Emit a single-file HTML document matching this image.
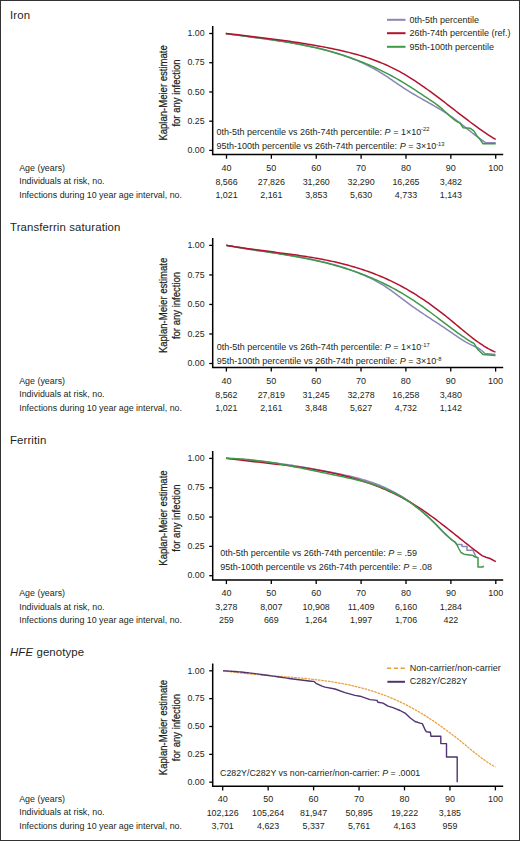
<!DOCTYPE html>
<html><head><meta charset="utf-8"><style>
html,body{margin:0;padding:0;background:#fff;}
body{width:520px;height:841px;overflow:hidden;}
svg{display:block;}
text{font-family:"Liberation Sans", sans-serif;fill:#231f20;}
.title{font-size:11.4px;letter-spacing:0.12px;}
.yt{font-size:8.8px;text-anchor:end;}
.xt{font-size:9px;text-anchor:middle;}
.tl{font-size:8.9px;}
.tn{font-size:8.9px;text-anchor:middle;}
.pt{font-size:9px;}
.pt4{font-size:8.8px;}
.sup{font-size:5.8px;}
.lg{font-size:9px;}
.ylab{font-size:11.5px;text-anchor:middle;stroke:#231f20;stroke-width:0.25px;}
.axis{fill:none;stroke:#000;stroke-width:1.5;}
.tick{fill:none;stroke:#000;stroke-width:1.3;}
</style></head><body>
<svg width="520" height="841" viewBox="0 0 520 841">
<rect x="0.5" y="0.5" width="519" height="840" fill="#fff" stroke="#333" stroke-width="1"/>
<text x="10" y="19.1" class="title">Iron</text>
<path d="M212.7 26.0 V154.5 H503.2" class="axis"/>
<path d="M209.2 33.50 H212.7" class="tick"/>
<text x="204.6" y="36.20" class="yt">1.00</text>
<path d="M209.2 62.73 H212.7" class="tick"/>
<text x="204.6" y="65.42" class="yt">0.75</text>
<path d="M209.2 91.95 H212.7" class="tick"/>
<text x="204.6" y="94.65" class="yt">0.50</text>
<path d="M209.2 121.18 H212.7" class="tick"/>
<text x="204.6" y="123.88" class="yt">0.25</text>
<path d="M209.2 150.40 H212.7" class="tick"/>
<text x="204.6" y="153.10" class="yt">0.00</text>
<text transform="translate(166.6 92.95) rotate(-90) scale(0.83 1)" class="ylab">Kaplan-Meier estimate</text>
<text transform="translate(180.3 92.95) rotate(-90) scale(0.83 1)" class="ylab">for any infection</text>
<path d="M226.50 154.5 V158.7" class="tick"/>
<text x="226.50" y="170.6" class="xt">40</text>
<path d="M271.37 154.5 V158.7" class="tick"/>
<text x="271.37" y="170.6" class="xt">50</text>
<path d="M316.24 154.5 V158.7" class="tick"/>
<text x="316.24" y="170.6" class="xt">60</text>
<path d="M361.11 154.5 V158.7" class="tick"/>
<text x="361.11" y="170.6" class="xt">70</text>
<path d="M405.98 154.5 V158.7" class="tick"/>
<text x="405.98" y="170.6" class="xt">80</text>
<path d="M450.85 154.5 V158.7" class="tick"/>
<text x="450.85" y="170.6" class="xt">90</text>
<path d="M495.72 154.5 V158.7" class="tick"/>
<text x="495.72" y="170.6" class="xt">100</text>
<text x="19.2" y="170.9" class="tl">Age (years)</text>
<text x="19.2" y="184.4" class="tl">Individuals at risk, no.</text>
<text x="19.2" y="197.8" class="tl">Infections during 10 year age interval, no.</text>
<text x="226.50" y="184.8" class="tn">8,566</text>
<text x="271.37" y="184.8" class="tn">27,826</text>
<text x="316.24" y="184.8" class="tn">31,260</text>
<text x="361.11" y="184.8" class="tn">32,290</text>
<text x="405.98" y="184.8" class="tn">16,265</text>
<text x="450.85" y="184.8" class="tn">3,482</text>
<text x="226.50" y="198.2" class="tn">1,021</text>
<text x="271.37" y="198.2" class="tn">2,161</text>
<text x="316.24" y="198.2" class="tn">3,853</text>
<text x="361.11" y="198.2" class="tn">5,630</text>
<text x="405.98" y="198.2" class="tn">4,733</text>
<text x="450.85" y="198.2" class="tn">1,143</text>
<path d="M225.80 33.50 L227.80 33.81 L229.80 34.11 L231.80 34.40 L233.80 34.69 L235.80 34.98 L237.80 35.26 L239.80 35.54 L241.80 35.82 L243.80 36.09 L245.80 36.36 L247.80 36.63 L249.80 36.89 L251.80 37.16 L253.80 37.42 L255.80 37.69 L257.80 37.95 L259.80 38.22 L261.80 38.48 L263.80 38.75 L265.80 39.02 L267.80 39.29 L269.80 39.57 L271.80 39.84 L273.80 40.13 L275.80 40.41 L277.80 40.70 L279.80 41.00 L281.80 41.29 L283.80 41.60 L285.80 41.91 L287.80 42.23 L289.80 42.56 L291.80 42.89 L293.80 43.23 L295.80 43.58 L297.80 43.94 L299.80 44.30 L301.80 44.68 L303.80 45.07 L305.80 45.46 L307.80 45.87 L309.80 46.29 L311.80 46.72 L313.80 47.16 L315.80 47.62 L317.80 48.09 L319.80 48.57 L321.80 49.07 L323.80 49.58 L325.80 50.10 L327.80 50.64 L329.80 51.20 L331.80 51.77 L333.80 52.36 L335.80 52.96 L337.80 53.58 L339.80 54.22 L341.80 54.88 L343.80 55.56 L345.80 56.25 L347.80 56.97 L349.80 57.70 L351.80 58.46 L353.80 59.25 L355.80 60.05 L357.80 60.88 L359.80 61.74 L361.80 62.63 L363.80 63.55 L365.80 64.50 L367.80 65.48 L369.80 66.49 L371.80 67.54 L373.80 68.62 L375.80 69.74 L377.80 70.89 L379.80 72.09 L381.80 73.33 L383.80 74.60 L385.80 75.90 L387.80 77.22 L389.80 78.57 L391.80 79.93 L393.80 81.29 L395.80 82.66 L397.80 84.03 L399.80 85.38 L401.80 86.72 L403.80 88.05 L405.80 89.34 L407.80 90.61 L409.80 91.85 L411.80 93.06 L413.80 94.25 L415.80 95.42 L417.80 96.58 L419.80 97.72 L421.80 98.85 L423.80 99.98 L425.80 101.11 L427.80 102.23 L429.80 103.36 L431.80 104.50 L433.80 105.64 L435.80 106.80 L437.80 107.98 L439.80 109.17 L441.80 110.39 L443.80 111.64 L445.80 112.91 L447.80 114.22 L449.80 115.56 L451.80 116.95 L453.80 118.37 L455.80 119.84 L457.80 121.36 L459.80 122.91 L461.80 124.49 L463.80 126.09 L465.80 127.70 L467.80 129.32 L469.80 130.93 L471.80 132.54 L473.80 134.12 L475.80 135.68 L477.80 137.20 L479.80 138.68 L481.80 140.11 L483.80 141.48 L485.50 142.60 L495.70 142.70" fill="none" stroke="#8a86b8" stroke-width="1.50" stroke-linejoin="round" />
<path d="M225.80 33.50 L227.80 33.77 L229.80 34.04 L231.80 34.31 L233.80 34.58 L235.80 34.84 L237.80 35.11 L239.80 35.37 L241.80 35.64 L243.80 35.90 L245.80 36.16 L247.80 36.43 L249.80 36.69 L251.80 36.96 L253.80 37.23 L255.80 37.50 L257.80 37.77 L259.80 38.04 L261.80 38.32 L263.80 38.60 L265.80 38.88 L267.80 39.16 L269.80 39.45 L271.80 39.75 L273.80 40.05 L275.80 40.35 L277.80 40.66 L279.80 40.97 L281.80 41.29 L283.80 41.61 L285.80 41.94 L287.80 42.28 L289.80 42.62 L291.80 42.97 L293.80 43.33 L295.80 43.70 L297.80 44.07 L299.80 44.45 L301.80 44.84 L303.80 45.24 L305.80 45.65 L307.80 46.07 L309.80 46.50 L311.80 46.93 L313.80 47.38 L315.80 47.84 L317.80 48.31 L319.80 48.79 L321.80 49.28 L323.80 49.78 L325.80 50.30 L327.80 50.83 L329.80 51.37 L331.80 51.92 L333.80 52.49 L335.80 53.07 L337.80 53.66 L339.80 54.27 L341.80 54.89 L343.80 55.53 L345.80 56.18 L347.80 56.85 L349.80 57.53 L351.80 58.23 L353.80 58.94 L355.80 59.67 L357.80 60.42 L359.80 61.19 L361.80 61.97 L363.80 62.77 L365.80 63.59 L367.80 64.42 L369.80 65.28 L371.80 66.15 L373.80 67.05 L375.80 67.96 L377.80 68.89 L379.80 69.84 L381.80 70.81 L383.80 71.81 L385.80 72.82 L387.80 73.86 L389.80 74.91 L391.80 75.99 L393.80 77.09 L395.80 78.21 L397.80 79.35 L399.80 80.51 L401.80 81.70 L403.80 82.90 L405.80 84.12 L407.80 85.36 L409.80 86.62 L411.80 87.90 L413.80 89.19 L415.80 90.49 L417.80 91.81 L419.80 93.13 L421.80 94.46 L423.80 95.79 L425.80 97.12 L427.80 98.45 L429.80 99.77 L431.80 101.09 L433.80 102.43 L435.80 103.83 L437.80 105.34 L439.80 106.95 L441.80 108.66 L443.80 110.44 L445.80 112.27 L447.80 114.13 L449.80 115.96 L451.80 117.73 L453.80 119.37 L455.80 120.82 L457.80 122.03 L459.80 122.93 L460.00 123.00 L463.00 127.70 L470.00 128.20 L474.00 131.20 L477.00 136.00 L480.00 139.40 L483.00 143.70 L495.70 143.70" fill="none" stroke="#3f9a47" stroke-width="1.50" stroke-linejoin="round" />
<path d="M225.80 33.50 L227.80 33.72 L229.80 33.95 L231.80 34.17 L233.80 34.40 L235.80 34.62 L237.80 34.85 L239.80 35.08 L241.80 35.30 L243.80 35.53 L245.80 35.76 L247.80 35.99 L249.80 36.23 L251.80 36.46 L253.80 36.69 L255.80 36.93 L257.80 37.17 L259.80 37.41 L261.80 37.65 L263.80 37.90 L265.80 38.15 L267.80 38.40 L269.80 38.65 L271.80 38.91 L273.80 39.17 L275.80 39.43 L277.80 39.69 L279.80 39.96 L281.80 40.23 L283.80 40.51 L285.80 40.79 L287.80 41.07 L289.80 41.36 L291.80 41.65 L293.80 41.95 L295.80 42.25 L297.80 42.55 L299.80 42.86 L301.80 43.18 L303.80 43.50 L305.80 43.82 L307.80 44.15 L309.80 44.49 L311.80 44.83 L313.80 45.18 L315.80 45.53 L317.80 45.89 L319.80 46.25 L321.80 46.62 L323.80 47.00 L325.80 47.38 L327.80 47.77 L329.80 48.17 L331.80 48.57 L333.80 48.98 L335.80 49.40 L337.80 49.83 L339.80 50.27 L341.80 50.72 L343.80 51.18 L345.80 51.65 L347.80 52.14 L349.80 52.64 L351.80 53.15 L353.80 53.68 L355.80 54.22 L357.80 54.78 L359.80 55.36 L361.80 55.95 L363.80 56.57 L365.80 57.20 L367.80 57.86 L369.80 58.53 L371.80 59.23 L373.80 59.95 L375.80 60.69 L377.80 61.46 L379.80 62.25 L381.80 63.07 L383.80 63.91 L385.80 64.78 L387.80 65.68 L389.80 66.61 L391.80 67.57 L393.80 68.55 L395.80 69.57 L397.80 70.62 L399.80 71.70 L401.80 72.81 L403.80 73.96 L405.80 75.14 L407.80 76.34 L409.80 77.58 L411.80 78.84 L413.80 80.13 L415.80 81.44 L417.80 82.77 L419.80 84.13 L421.80 85.51 L423.80 86.91 L425.80 88.33 L427.80 89.76 L429.80 91.21 L431.80 92.68 L433.80 94.16 L435.80 95.65 L437.80 97.15 L439.80 98.67 L441.80 100.19 L443.80 101.72 L445.80 103.26 L447.80 104.80 L449.80 106.34 L451.80 107.89 L453.80 109.44 L455.80 110.99 L457.80 112.54 L459.80 114.09 L461.80 115.63 L463.80 117.17 L465.80 118.70 L467.80 120.22 L469.80 121.73 L471.80 123.23 L473.80 124.71 L475.80 126.18 L477.80 127.63 L479.80 129.05 L481.80 130.45 L483.80 131.83 L485.80 133.19 L487.80 134.51 L489.80 135.80 L491.80 137.06 L493.80 138.29 L495.70 139.42" fill="none" stroke="#b01430" stroke-width="1.50" stroke-linejoin="round" />
<path d="M387 19.8 H405.5" stroke="#8a86b8" stroke-width="2" />
<text x="409.4" y="22.7" class="lg">0th-5th percentile</text>
<path d="M387 33.2 H405.5" stroke="#b01430" stroke-width="2" />
<text x="409.4" y="36.1" class="lg">26th-74th percentile (ref.)</text>
<path d="M387 46.8 H405.5" stroke="#3f9a47" stroke-width="2" />
<text x="409.4" y="49.7" class="lg">95th-100th percentile</text>
<text x="216.5" y="134.6" class="pt">0th-5th percentile vs 26th-74th percentile: <tspan font-style="italic">P</tspan> = 1×10<tspan class="sup" dy="-3.2">-22</tspan></text>
<text x="216.5" y="149.2" class="pt">95th-100th percentile vs 26th-74th percentile: <tspan font-style="italic">P</tspan> = 3×10<tspan class="sup" dy="-3.2">-13</tspan></text>
<text x="10" y="231.2" class="title">Transferrin saturation</text>
<path d="M212.7 238.1 V367.4 H503.2" class="axis"/>
<path d="M209.2 245.40 H212.7" class="tick"/>
<text x="204.6" y="248.10" class="yt">1.00</text>
<path d="M209.2 274.93 H212.7" class="tick"/>
<text x="204.6" y="277.62" class="yt">0.75</text>
<path d="M209.2 304.45 H212.7" class="tick"/>
<text x="204.6" y="307.15" class="yt">0.50</text>
<path d="M209.2 333.98 H212.7" class="tick"/>
<text x="204.6" y="336.68" class="yt">0.25</text>
<path d="M209.2 363.50 H212.7" class="tick"/>
<text x="204.6" y="366.20" class="yt">0.00</text>
<text transform="translate(166.6 305.45) rotate(-90) scale(0.83 1)" class="ylab">Kaplan-Meier estimate</text>
<text transform="translate(180.3 305.45) rotate(-90) scale(0.83 1)" class="ylab">for any infection</text>
<path d="M226.40 367.4 V371.6" class="tick"/>
<text x="226.40" y="383.5" class="xt">40</text>
<path d="M271.27 367.4 V371.6" class="tick"/>
<text x="271.27" y="383.5" class="xt">50</text>
<path d="M316.14 367.4 V371.6" class="tick"/>
<text x="316.14" y="383.5" class="xt">60</text>
<path d="M361.01 367.4 V371.6" class="tick"/>
<text x="361.01" y="383.5" class="xt">70</text>
<path d="M405.88 367.4 V371.6" class="tick"/>
<text x="405.88" y="383.5" class="xt">80</text>
<path d="M450.75 367.4 V371.6" class="tick"/>
<text x="450.75" y="383.5" class="xt">90</text>
<path d="M495.62 367.4 V371.6" class="tick"/>
<text x="495.62" y="383.5" class="xt">100</text>
<text x="19.2" y="383.8" class="tl">Age (years)</text>
<text x="19.2" y="397.3" class="tl">Individuals at risk, no.</text>
<text x="19.2" y="410.7" class="tl">Infections during 10 year age interval, no.</text>
<text x="226.40" y="397.7" class="tn">8,562</text>
<text x="271.27" y="397.7" class="tn">27,819</text>
<text x="316.14" y="397.7" class="tn">31,245</text>
<text x="361.01" y="397.7" class="tn">32,278</text>
<text x="405.88" y="397.7" class="tn">16,258</text>
<text x="450.75" y="397.7" class="tn">3,480</text>
<text x="226.40" y="411.1" class="tn">1,021</text>
<text x="271.27" y="411.1" class="tn">2,161</text>
<text x="316.14" y="411.1" class="tn">3,848</text>
<text x="361.01" y="411.1" class="tn">5,627</text>
<text x="405.88" y="411.1" class="tn">4,732</text>
<text x="450.75" y="411.1" class="tn">1,142</text>
<path d="M226.30 245.30 L228.30 245.69 L230.30 246.08 L232.30 246.45 L234.30 246.81 L236.30 247.17 L238.30 247.52 L240.30 247.86 L242.30 248.20 L244.30 248.52 L246.30 248.85 L248.30 249.16 L250.30 249.47 L252.30 249.78 L254.30 250.09 L256.30 250.39 L258.30 250.68 L260.30 250.98 L262.30 251.27 L264.30 251.56 L266.30 251.86 L268.30 252.15 L270.30 252.44 L272.30 252.73 L274.30 253.02 L276.30 253.32 L278.30 253.61 L280.30 253.91 L282.30 254.21 L284.30 254.52 L286.30 254.83 L288.30 255.14 L290.30 255.46 L292.30 255.78 L294.30 256.12 L296.30 256.45 L298.30 256.80 L300.30 257.15 L302.30 257.51 L304.30 257.88 L306.30 258.25 L308.30 258.64 L310.30 259.04 L312.30 259.45 L314.30 259.87 L316.30 260.30 L318.30 260.74 L320.30 261.19 L322.30 261.66 L324.30 262.14 L326.30 262.64 L328.30 263.15 L330.30 263.67 L332.30 264.21 L334.30 264.77 L336.30 265.34 L338.30 265.93 L340.30 266.54 L342.30 267.16 L344.30 267.81 L346.30 268.47 L348.30 269.15 L350.30 269.85 L352.30 270.58 L354.30 271.32 L356.30 272.09 L358.30 272.87 L360.30 273.69 L362.30 274.52 L364.30 275.39 L366.30 276.29 L368.30 277.21 L370.30 278.17 L372.30 279.17 L374.30 280.20 L376.30 281.27 L378.30 282.38 L380.30 283.53 L382.30 284.72 L384.30 285.96 L386.30 287.25 L388.30 288.58 L390.30 289.96 L392.30 291.39 L394.30 292.87 L396.30 294.37 L398.30 295.89 L400.30 297.42 L402.30 298.94 L404.30 300.46 L406.30 301.95 L408.30 303.42 L410.30 304.87 L412.30 306.29 L414.30 307.70 L416.30 309.09 L418.30 310.46 L420.30 311.82 L422.30 313.17 L424.30 314.50 L426.30 315.83 L428.30 317.16 L430.30 318.47 L432.30 319.79 L434.30 321.10 L436.30 322.42 L438.30 323.74 L440.30 325.06 L442.30 326.39 L444.30 327.73 L446.30 329.08 L448.30 330.44 L450.30 331.81 L452.30 333.20 L454.30 334.59 L456.30 335.97 L458.30 337.33 L460.30 338.66 L462.30 339.94 L464.30 341.17 L466.30 342.34 L468.30 343.43 L470.30 344.43 L472.30 345.35 L474.30 346.25 L476.30 347.20 L478.30 348.26 L480.30 349.50 L482.30 351.00 L484.30 352.84 L485.00 353.58 L495.50 354.50" fill="none" stroke="#8a86b8" stroke-width="1.50" stroke-linejoin="round" />
<path d="M226.30 245.30 L228.30 245.65 L230.30 245.99 L232.30 246.33 L234.30 246.67 L236.30 247.00 L238.30 247.32 L240.30 247.65 L242.30 247.97 L244.30 248.28 L246.30 248.60 L248.30 248.91 L250.30 249.22 L252.30 249.53 L254.30 249.84 L256.30 250.15 L258.30 250.46 L260.30 250.76 L262.30 251.07 L264.30 251.38 L266.30 251.69 L268.30 252.00 L270.30 252.31 L272.30 252.62 L274.30 252.94 L276.30 253.26 L278.30 253.58 L280.30 253.91 L282.30 254.23 L284.30 254.57 L286.30 254.90 L288.30 255.25 L290.30 255.59 L292.30 255.94 L294.30 256.30 L296.30 256.67 L298.30 257.04 L300.30 257.41 L302.30 257.80 L304.30 258.19 L306.30 258.59 L308.30 258.99 L310.30 259.41 L312.30 259.83 L314.30 260.26 L316.30 260.71 L318.30 261.16 L320.30 261.62 L322.30 262.09 L324.30 262.58 L326.30 263.07 L328.30 263.58 L330.30 264.09 L332.30 264.62 L334.30 265.17 L336.30 265.72 L338.30 266.29 L340.30 266.87 L342.30 267.46 L344.30 268.07 L346.30 268.70 L348.30 269.34 L350.30 269.99 L352.30 270.66 L354.30 271.34 L356.30 272.05 L358.30 272.76 L360.30 273.50 L362.30 274.25 L364.30 275.02 L366.30 275.81 L368.30 276.61 L370.30 277.43 L372.30 278.28 L374.30 279.14 L376.30 280.02 L378.30 280.92 L380.30 281.84 L382.30 282.78 L384.30 283.75 L386.30 284.73 L388.30 285.74 L390.30 286.76 L392.30 287.81 L394.30 288.89 L396.30 289.98 L398.30 291.10 L400.30 292.24 L402.30 293.41 L404.30 294.60 L406.30 295.81 L408.30 297.05 L410.30 298.32 L412.30 299.61 L414.30 300.92 L416.30 302.27 L418.30 303.64 L420.30 305.03 L422.30 306.44 L424.30 307.87 L426.30 309.32 L428.30 310.79 L430.30 312.27 L432.30 313.76 L434.30 315.26 L436.30 316.76 L438.30 318.28 L440.30 319.80 L442.30 321.32 L444.30 322.84 L446.30 324.36 L448.30 325.88 L450.30 327.39 L452.30 328.89 L454.30 330.38 L456.30 331.85 L458.30 333.30 L460.30 334.73 L462.30 336.12 L464.30 337.48 L466.30 338.80 L468.30 340.08 L470.30 341.31 L472.30 342.48 L474.00 343.43 L478.00 349.80 L483.00 354.40 L495.50 355.60" fill="none" stroke="#3f9a47" stroke-width="1.50" stroke-linejoin="round" />
<path d="M226.30 245.30 L228.30 245.64 L230.30 245.98 L232.30 246.31 L234.30 246.63 L236.30 246.95 L238.30 247.25 L240.30 247.56 L242.30 247.85 L244.30 248.14 L246.30 248.43 L248.30 248.71 L250.30 248.99 L252.30 249.26 L254.30 249.53 L256.30 249.79 L258.30 250.06 L260.30 250.32 L262.30 250.58 L264.30 250.84 L266.30 251.09 L268.30 251.35 L270.30 251.60 L272.30 251.86 L274.30 252.11 L276.30 252.37 L278.30 252.63 L280.30 252.88 L282.30 253.14 L284.30 253.41 L286.30 253.67 L288.30 253.94 L290.30 254.21 L292.30 254.49 L294.30 254.77 L296.30 255.05 L298.30 255.34 L300.30 255.64 L302.30 255.94 L304.30 256.24 L306.30 256.56 L308.30 256.88 L310.30 257.20 L312.30 257.54 L314.30 257.88 L316.30 258.23 L318.30 258.59 L320.30 258.96 L322.30 259.34 L324.30 259.73 L326.30 260.13 L328.30 260.54 L330.30 260.96 L332.30 261.39 L334.30 261.83 L336.30 262.29 L338.30 262.76 L340.30 263.24 L342.30 263.74 L344.30 264.25 L346.30 264.77 L348.30 265.31 L350.30 265.86 L352.30 266.43 L354.30 267.01 L356.30 267.61 L358.30 268.23 L360.30 268.86 L362.30 269.51 L364.30 270.18 L366.30 270.87 L368.30 271.57 L370.30 272.29 L372.30 273.04 L374.30 273.80 L376.30 274.58 L378.30 275.38 L380.30 276.21 L382.30 277.05 L384.30 277.92 L386.30 278.80 L388.30 279.71 L390.30 280.65 L392.30 281.60 L394.30 282.58 L396.30 283.58 L398.30 284.61 L400.30 285.66 L402.30 286.74 L404.30 287.84 L406.30 288.96 L408.30 290.12 L410.30 291.30 L412.30 292.50 L414.30 293.73 L416.30 294.98 L418.30 296.26 L420.30 297.56 L422.30 298.88 L424.30 300.23 L426.30 301.60 L428.30 302.99 L430.30 304.41 L432.30 305.85 L434.30 307.31 L436.30 308.79 L438.30 310.30 L440.30 311.82 L442.30 313.37 L444.30 314.93 L446.30 316.52 L448.30 318.12 L450.30 319.75 L452.30 321.39 L454.30 323.05 L456.30 324.72 L458.30 326.39 L460.30 328.06 L462.30 329.73 L464.30 331.38 L466.30 333.02 L468.30 334.64 L470.30 336.23 L472.30 337.80 L474.30 339.32 L476.30 340.81 L478.30 342.26 L480.30 343.65 L482.30 344.99 L484.30 346.27 L486.30 347.49 L488.30 348.64 L490.30 349.71 L492.30 350.71 L494.30 351.62 L495.50 352.13" fill="none" stroke="#b01430" stroke-width="1.50" stroke-linejoin="round" />
<text x="216.7" y="349.8" class="pt">0th-5th percentile vs 26th-74th percentile: <tspan font-style="italic">P</tspan> = 1×10<tspan class="sup" dy="-3.2">-17</tspan></text>
<text x="216.7" y="364.4" class="pt">95th-100th percentile vs 26th-74th percentile: <tspan font-style="italic">P</tspan> = 3×10<tspan class="sup" dy="-3.2">-8</tspan></text>
<text x="10" y="444.0" class="title">Ferritin</text>
<path d="M212.7 451.1 V579.9 H503.2" class="axis"/>
<path d="M209.2 458.40 H212.7" class="tick"/>
<text x="204.6" y="461.10" class="yt">1.00</text>
<path d="M209.2 487.73 H212.7" class="tick"/>
<text x="204.6" y="490.43" class="yt">0.75</text>
<path d="M209.2 517.05 H212.7" class="tick"/>
<text x="204.6" y="519.75" class="yt">0.50</text>
<path d="M209.2 546.38 H212.7" class="tick"/>
<text x="204.6" y="549.08" class="yt">0.25</text>
<path d="M209.2 575.70 H212.7" class="tick"/>
<text x="204.6" y="578.40" class="yt">0.00</text>
<text transform="translate(166.6 518.05) rotate(-90) scale(0.83 1)" class="ylab">Kaplan-Meier estimate</text>
<text transform="translate(180.3 518.05) rotate(-90) scale(0.83 1)" class="ylab">for any infection</text>
<path d="M226.40 579.9 V584.1" class="tick"/>
<text x="226.40" y="595.9" class="xt">40</text>
<path d="M271.30 579.9 V584.1" class="tick"/>
<text x="271.30" y="595.9" class="xt">50</text>
<path d="M316.20 579.9 V584.1" class="tick"/>
<text x="316.20" y="595.9" class="xt">60</text>
<path d="M361.10 579.9 V584.1" class="tick"/>
<text x="361.10" y="595.9" class="xt">70</text>
<path d="M406.00 579.9 V584.1" class="tick"/>
<text x="406.00" y="595.9" class="xt">80</text>
<path d="M450.90 579.9 V584.1" class="tick"/>
<text x="450.90" y="595.9" class="xt">90</text>
<path d="M495.80 579.9 V584.1" class="tick"/>
<text x="495.80" y="595.9" class="xt">100</text>
<text x="19.2" y="596.2" class="tl">Age (years)</text>
<text x="19.2" y="609.6" class="tl">Individuals at risk, no.</text>
<text x="19.2" y="623.0" class="tl">Infections during 10 year age interval, no.</text>
<text x="226.40" y="610.0" class="tn">3,278</text>
<text x="271.30" y="610.0" class="tn">8,007</text>
<text x="316.20" y="610.0" class="tn">10,908</text>
<text x="361.10" y="610.0" class="tn">11,409</text>
<text x="406.00" y="610.0" class="tn">6,160</text>
<text x="450.90" y="610.0" class="tn">1,284</text>
<text x="226.40" y="623.4" class="tn">259</text>
<text x="271.30" y="623.4" class="tn">669</text>
<text x="316.20" y="623.4" class="tn">1,264</text>
<text x="361.10" y="623.4" class="tn">1,997</text>
<text x="406.00" y="623.4" class="tn">1,706</text>
<text x="450.90" y="623.4" class="tn">422</text>
<path d="M226.10 458.30 L228.10 458.42 L230.10 458.54 L232.10 458.67 L234.10 458.81 L236.10 458.95 L238.10 459.10 L240.10 459.26 L242.10 459.42 L244.10 459.59 L246.10 459.76 L248.10 459.94 L250.10 460.13 L252.10 460.32 L254.10 460.52 L256.10 460.72 L258.10 460.93 L260.10 461.15 L262.10 461.37 L264.10 461.60 L266.10 461.83 L268.10 462.07 L270.10 462.31 L272.10 462.56 L274.10 462.82 L276.10 463.08 L278.10 463.35 L280.10 463.62 L282.10 463.90 L284.10 464.18 L286.10 464.47 L288.10 464.76 L290.10 465.06 L292.10 465.36 L294.10 465.67 L296.10 465.98 L298.10 466.30 L300.10 466.62 L302.10 466.95 L304.10 467.28 L306.10 467.62 L308.10 467.96 L310.10 468.31 L312.10 468.66 L314.10 469.02 L316.10 469.38 L318.10 469.75 L320.10 470.12 L322.10 470.49 L324.10 470.87 L326.10 471.25 L328.10 471.64 L330.10 472.03 L332.10 472.43 L334.10 472.83 L336.10 473.24 L338.10 473.65 L340.10 474.06 L342.10 474.48 L344.10 474.92 L346.10 475.36 L348.10 475.81 L350.10 476.27 L352.10 476.75 L354.10 477.24 L356.10 477.75 L358.10 478.28 L360.10 478.82 L362.10 479.39 L364.10 479.97 L366.10 480.58 L368.10 481.21 L370.10 481.86 L372.10 482.55 L374.10 483.25 L376.10 483.99 L378.10 484.76 L380.10 485.55 L382.10 486.38 L384.10 487.25 L386.10 488.14 L388.10 489.08 L390.10 490.05 L392.10 491.05 L394.10 492.10 L396.10 493.19 L398.10 494.32 L400.10 495.50 L402.10 496.71 L404.10 497.98 L406.10 499.29 L408.10 500.65 L410.10 502.05 L412.10 503.50 L414.10 505.00 L416.10 506.55 L418.10 508.14 L420.10 509.79 L422.10 511.48 L424.10 513.22 L426.10 515.01 L428.10 516.85 L430.10 518.74 L432.10 520.68 L434.10 522.68 L436.10 524.72 L438.10 526.80 L440.10 528.89 L442.10 530.96 L444.10 532.98 L446.10 534.93 L448.10 536.79 L450.10 538.51 L452.10 540.08 L454.10 541.47 L455.00 542.03 L457.00 544.40 L462.00 544.40 L462.00 546.40 L467.00 546.40 L467.00 550.20 L473.00 550.20 L476.00 557.10 L478.00 557.70" fill="none" stroke="#8a86b8" stroke-width="1.50" stroke-linejoin="round" />
<path d="M226.10 458.30 L228.10 458.56 L230.10 458.82 L232.10 459.07 L234.10 459.32 L236.10 459.57 L238.10 459.81 L240.10 460.05 L242.10 460.28 L244.10 460.52 L246.10 460.75 L248.10 460.98 L250.10 461.20 L252.10 461.43 L254.10 461.65 L256.10 461.88 L258.10 462.10 L260.10 462.33 L262.10 462.55 L264.10 462.77 L266.10 463.00 L268.10 463.22 L270.10 463.45 L272.10 463.68 L274.10 463.91 L276.10 464.15 L278.10 464.38 L280.10 464.62 L282.10 464.86 L284.10 465.11 L286.10 465.36 L288.10 465.62 L290.10 465.87 L292.10 466.14 L294.10 466.41 L296.10 466.68 L298.10 466.96 L300.10 467.25 L302.10 467.54 L304.10 467.84 L306.10 468.15 L308.10 468.46 L310.10 468.79 L312.10 469.12 L314.10 469.45 L316.10 469.80 L318.10 470.16 L320.10 470.52 L322.10 470.90 L324.10 471.28 L326.10 471.67 L328.10 472.08 L330.10 472.50 L332.10 472.92 L334.10 473.36 L336.10 473.81 L338.10 474.27 L340.10 474.75 L342.10 475.23 L344.10 475.74 L346.10 476.25 L348.10 476.78 L350.10 477.32 L352.10 477.87 L354.10 478.44 L356.10 479.03 L358.10 479.63 L360.10 480.24 L362.10 480.88 L364.10 481.53 L366.10 482.19 L368.10 482.88 L370.10 483.58 L372.10 484.30 L374.10 485.05 L376.10 485.81 L378.10 486.59 L380.10 487.39 L382.10 488.21 L384.10 489.05 L386.10 489.92 L388.10 490.80 L390.10 491.71 L392.10 492.65 L394.10 493.60 L396.10 494.58 L398.10 495.59 L400.10 496.62 L402.10 497.67 L404.10 498.75 L406.10 499.86 L408.10 500.99 L410.10 502.15 L412.10 503.34 L414.10 504.55 L416.10 505.80 L418.10 507.07 L420.10 508.37 L422.10 509.70 L424.10 511.06 L426.10 512.45 L428.10 513.86 L430.10 515.29 L432.10 516.75 L434.10 518.22 L436.10 519.72 L438.10 521.23 L440.10 522.76 L442.10 524.30 L444.10 525.85 L446.10 527.42 L448.10 528.99 L450.10 530.57 L452.10 532.16 L454.10 533.75 L456.10 535.35 L458.10 536.95 L460.10 538.55 L462.10 540.14 L464.10 541.74 L466.10 543.32 L468.10 544.91 L470.10 546.48 L472.10 548.05 L474.10 549.60 L476.10 551.15 L478.10 552.67 L480.10 554.19 L482.00 555.61 L486.00 557.30 L490.00 558.50 L495.80 561.70" fill="none" stroke="#b01430" stroke-width="1.50" stroke-linejoin="round" />
<path d="M226.10 458.30 L228.10 458.34 L230.10 458.40 L232.10 458.47 L234.10 458.56 L236.10 458.67 L238.10 458.78 L240.10 458.92 L242.10 459.06 L244.10 459.22 L246.10 459.40 L248.10 459.58 L250.10 459.78 L252.10 459.99 L254.10 460.22 L256.10 460.45 L258.10 460.69 L260.10 460.95 L262.10 461.22 L264.10 461.50 L266.10 461.78 L268.10 462.08 L270.10 462.38 L272.10 462.70 L274.10 463.02 L276.10 463.35 L278.10 463.69 L280.10 464.04 L282.10 464.39 L284.10 464.75 L286.10 465.12 L288.10 465.49 L290.10 465.87 L292.10 466.25 L294.10 466.64 L296.10 467.04 L298.10 467.43 L300.10 467.84 L302.10 468.24 L304.10 468.65 L306.10 469.06 L308.10 469.48 L310.10 469.90 L312.10 470.32 L314.10 470.74 L316.10 471.16 L318.10 471.58 L320.10 472.01 L322.10 472.43 L324.10 472.86 L326.10 473.28 L328.10 473.71 L330.10 474.13 L332.10 474.55 L334.10 474.97 L336.10 475.39 L338.10 475.81 L340.10 476.22 L342.10 476.64 L344.10 477.06 L346.10 477.49 L348.10 477.92 L350.10 478.36 L352.10 478.81 L354.10 479.27 L356.10 479.74 L358.10 480.22 L360.10 480.72 L362.10 481.24 L364.10 481.78 L366.10 482.33 L368.10 482.91 L370.10 483.50 L372.10 484.13 L374.10 484.77 L376.10 485.45 L378.10 486.15 L380.10 486.88 L382.10 487.65 L384.10 488.45 L386.10 489.28 L388.10 490.15 L390.10 491.05 L392.10 492.00 L394.10 492.98 L396.10 494.01 L398.10 495.08 L400.10 496.19 L402.10 497.35 L404.10 498.56 L406.10 499.82 L408.10 501.13 L410.10 502.48 L412.10 503.88 L414.10 505.34 L416.10 506.84 L418.10 508.39 L420.10 509.99 L422.10 511.64 L424.10 513.33 L426.10 515.08 L428.10 516.88 L430.10 518.73 L432.10 520.62 L434.10 522.57 L436.10 524.57 L438.10 526.60 L440.10 528.65 L442.10 530.69 L444.10 532.71 L446.10 534.66 L448.10 536.55 L450.10 538.34 L452.10 540.00 L454.10 541.53 L455.00 542.16 L457.00 545.00 L459.00 549.00 L461.00 552.50 L464.00 554.20 L473.00 555.40 L474.00 556.50 L478.00 557.70 L478.00 566.90 L483.00 566.90 L483.50 565.80" fill="none" stroke="#3f9a47" stroke-width="1.50" stroke-linejoin="round" />
<text x="220.2" y="555.5" class="pt">0th-5th percentile vs 26th-74th percentile: <tspan font-style="italic">P</tspan> = .59</text>
<text x="220.2" y="569.8" class="pt">95th-100th percentile vs 26th-74th percentile: <tspan font-style="italic">P</tspan> = .08</text>
<text x="10" y="655.9" class="title"><tspan font-style="italic">HFE</tspan> genotype</text>
<path d="M212.7 663.5 V786.2 H503.2" class="axis"/>
<path d="M209.2 670.80 H212.7" class="tick"/>
<text x="204.6" y="673.50" class="yt">1.00</text>
<path d="M209.2 698.65 H212.7" class="tick"/>
<text x="204.6" y="701.35" class="yt">0.75</text>
<path d="M209.2 726.50 H212.7" class="tick"/>
<text x="204.6" y="729.20" class="yt">0.50</text>
<path d="M209.2 754.35 H212.7" class="tick"/>
<text x="204.6" y="757.05" class="yt">0.25</text>
<path d="M209.2 782.20 H212.7" class="tick"/>
<text x="204.6" y="784.90" class="yt">0.00</text>
<text transform="translate(166.6 727.50) rotate(-90) scale(0.83 1)" class="ylab">Kaplan-Meier estimate</text>
<text transform="translate(180.3 727.50) rotate(-90) scale(0.83 1)" class="ylab">for any infection</text>
<path d="M222.70 786.2 V790.4" class="tick"/>
<text x="222.70" y="801.8" class="xt">40</text>
<path d="M268.15 786.2 V790.4" class="tick"/>
<text x="268.15" y="801.8" class="xt">50</text>
<path d="M313.60 786.2 V790.4" class="tick"/>
<text x="313.60" y="801.8" class="xt">60</text>
<path d="M359.05 786.2 V790.4" class="tick"/>
<text x="359.05" y="801.8" class="xt">70</text>
<path d="M404.50 786.2 V790.4" class="tick"/>
<text x="404.50" y="801.8" class="xt">80</text>
<path d="M449.95 786.2 V790.4" class="tick"/>
<text x="449.95" y="801.8" class="xt">90</text>
<path d="M495.40 786.2 V790.4" class="tick"/>
<text x="495.40" y="801.8" class="xt">100</text>
<text x="19.2" y="802.1" class="tl">Age (years)</text>
<text x="19.2" y="815.4" class="tl">Individuals at risk, no.</text>
<text x="19.2" y="828.7" class="tl">Infections during 10 year age interval, no.</text>
<text x="222.70" y="815.8" class="tn">102,126</text>
<text x="268.15" y="815.8" class="tn">105,264</text>
<text x="313.60" y="815.8" class="tn">81,947</text>
<text x="359.05" y="815.8" class="tn">50,895</text>
<text x="404.50" y="815.8" class="tn">19,222</text>
<text x="449.95" y="815.8" class="tn">3,185</text>
<text x="222.70" y="829.1" class="tn">3,701</text>
<text x="268.15" y="829.1" class="tn">4,623</text>
<text x="313.60" y="829.1" class="tn">5,337</text>
<text x="359.05" y="829.1" class="tn">5,761</text>
<text x="404.50" y="829.1" class="tn">4,163</text>
<text x="449.95" y="829.1" class="tn">959</text>
<path d="M223.10 670.80 L225.10 671.09 L227.10 671.37 L229.10 671.64 L231.10 671.90 L233.10 672.15 L235.10 672.39 L237.10 672.62 L239.10 672.85 L241.10 673.06 L243.10 673.27 L245.10 673.48 L247.10 673.67 L249.10 673.87 L251.10 674.05 L253.10 674.23 L255.10 674.41 L257.10 674.58 L259.10 674.75 L261.10 674.91 L263.10 675.07 L265.10 675.23 L267.10 675.39 L269.10 675.54 L271.10 675.70 L273.10 675.85 L275.10 676.00 L277.10 676.15 L279.10 676.31 L281.10 676.46 L283.10 676.61 L285.10 676.77 L287.10 676.92 L289.10 677.08 L291.10 677.24 L293.10 677.41 L295.10 677.58 L297.10 677.75 L299.10 677.93 L301.10 678.11 L303.10 678.30 L305.10 678.49 L307.10 678.69 L309.10 678.89 L311.10 679.10 L313.10 679.32 L315.10 679.55 L317.10 679.79 L319.10 680.03 L321.10 680.28 L323.10 680.54 L325.10 680.81 L327.10 681.09 L329.10 681.39 L331.10 681.69 L333.10 682.00 L335.10 682.33 L337.10 682.67 L339.10 683.02 L341.10 683.38 L343.10 683.76 L345.10 684.15 L347.10 684.55 L349.10 684.97 L351.10 685.41 L353.10 685.86 L355.10 686.32 L357.10 686.81 L359.10 687.31 L361.10 687.82 L363.10 688.36 L365.10 688.91 L367.10 689.48 L369.10 690.07 L371.10 690.68 L373.10 691.30 L375.10 691.95 L377.10 692.62 L379.10 693.31 L381.10 694.02 L383.10 694.75 L385.10 695.50 L387.10 696.28 L389.10 697.08 L391.10 697.90 L393.10 698.75 L395.10 699.62 L397.10 700.51 L399.10 701.43 L401.10 702.38 L403.10 703.35 L405.10 704.34 L407.10 705.36 L409.10 706.41 L411.10 707.48 L413.10 708.57 L415.10 709.69 L417.10 710.83 L419.10 712.00 L421.10 713.19 L423.10 714.40 L425.10 715.64 L427.10 716.90 L429.10 718.18 L431.10 719.48 L433.10 720.81 L435.10 722.15 L437.10 723.52 L439.10 724.91 L441.10 726.33 L443.10 727.76 L445.10 729.21 L447.10 730.69 L449.10 732.19 L451.10 733.70 L453.10 735.24 L455.10 736.79 L457.10 738.37 L459.10 739.96 L461.10 741.58 L463.10 743.20 L465.10 744.84 L467.10 746.49 L469.10 748.13 L471.10 749.77 L473.10 751.39 L475.10 753.00 L477.10 754.58 L479.10 756.13 L481.10 757.65 L483.10 759.13 L485.10 760.56 L487.10 761.94 L489.10 763.26 L491.10 764.51 L493.10 765.70 L495.10 766.82 L495.50 767.03" fill="none" stroke="#e9a03a" stroke-width="1.25" stroke-linejoin="round" stroke-dasharray="2.6 0.8"/>
<path d="M223.10 670.80 L225.10 670.88 L227.10 670.98 L229.10 671.10 L231.10 671.23 L233.10 671.37 L235.10 671.52 L237.10 671.69 L239.10 671.87 L241.10 672.06 L243.10 672.26 L245.10 672.47 L247.10 672.69 L249.10 672.91 L251.10 673.15 L253.10 673.40 L255.10 673.65 L257.10 673.90 L259.10 674.17 L261.10 674.44 L263.10 674.71 L265.10 674.99 L267.10 675.27 L269.10 675.56 L271.10 675.84 L273.10 676.13 L275.10 676.42 L277.10 676.71 L279.10 677.00 L281.10 677.30 L283.10 677.59 L285.10 677.87 L287.10 678.16 L289.10 678.44 L291.10 678.72 L293.10 679.00 L295.10 679.27 L297.10 679.54 L299.10 679.80 L301.10 680.05 L303.10 680.30 L305.10 680.54 L307.10 680.78 L309.10 681.00 L311.10 681.22 L313.10 681.42 L314.00 681.51 L316.00 683.30 L322.00 686.10 L325.00 687.10 L335.00 689.00 L345.00 692.60 L355.00 695.40 L360.00 696.20 L370.00 699.60 L377.00 700.40 L378.00 702.30 L383.00 703.10 L388.00 706.20 L393.00 707.70 L396.00 708.80 L400.00 710.50 L405.00 713.10 L410.00 717.70 L415.00 721.50 L420.00 723.10 L422.30 723.60 L425.20 730.00 L426.30 731.70 L430.40 732.30 L431.00 736.30 L440.80 736.30 L440.80 743.60 L446.50 743.60 L446.50 757.00 L457.20 757.00 L457.20 782.30" fill="none" stroke="#4f3470" stroke-width="1.40" stroke-linejoin="round" />
<path d="M387 668.2 H404.8" stroke="#e9a03a" stroke-width="1.6" stroke-dasharray="4.2 2.6"/>
<path d="M387.4 681.8 H405" stroke="#4f3470" stroke-width="2"/>
<text x="409.8" y="670.9" class="lg">Non-carrier/non-carrier</text>
<text x="409.8" y="684.4" class="lg">C282Y/C282Y</text>
<text x="220.1" y="776.4" class="pt pt4">C282Y/C282Y vs non-carrier/non-carrier: <tspan font-style="italic">P</tspan> = .0001</text>
</svg>
</body></html>
